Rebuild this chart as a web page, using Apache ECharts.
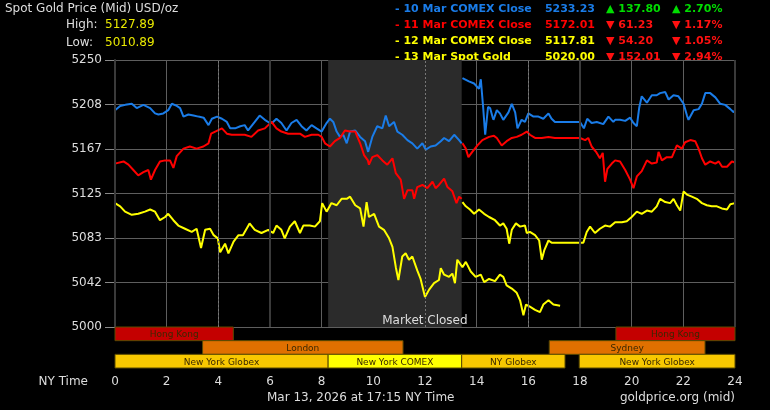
<!DOCTYPE html>
<html>
<head>
<meta charset="utf-8">
<script src="https://cdn.jsdelivr.net/npm/echarts@6/dist/echarts.min.js"></script>
<style>
  html, body { margin: 0; padding: 0; background: #000; }
  #main { width: 770px; height: 410px; }
</style>
</head>
<body>
<div id="main"></div>
<script>
// hours on NY time, price in USD/oz
// blue: after 10 Mar COMEX close -> 11 Mar close (wraps round the day)
var blueEarly = [[0,5203],[0.2,5207],[0.4,5208],[0.65,5209],[0.84,5205],[1.1,5208],[1.36,5205],[1.55,5200],[1.68,5199],[1.87,5200],[2.06,5203],[2.2,5209],[2.39,5207],[2.52,5205],[2.65,5197],[2.84,5199],[3.04,5198],[3.23,5197],[3.43,5196],[3.62,5189],[3.75,5195],[3.95,5197],[4.14,5195],[4.33,5192],[4.46,5186],[4.65,5186],[4.85,5188],[5.02,5189],[5.15,5184],[5.41,5192],[5.6,5198],[5.8,5194],[5.99,5191],[6.12,5192],[6.25,5195],[6.44,5191],[6.64,5184],[6.83,5191],[7.03,5194],[7.22,5188],[7.41,5184],[7.61,5189],[7.8,5186],[8.0,5183],[8.19,5191],[8.32,5195],[8.45,5192],[8.58,5183],[8.71,5178],[8.84,5180],[8.97,5172],[9.1,5183],[9.3,5184],[9.49,5178],[9.68,5174],[9.8,5164],[9.96,5178],[10.15,5188],[10.35,5186],[10.48,5198],[10.61,5188],[10.8,5192],[10.93,5183],[11.12,5180],[11.32,5175],[11.51,5172],[11.7,5167],[11.9,5172],[12.03,5166],[12.22,5169],[12.41,5170],[12.61,5174],[12.74,5177],[12.93,5174],[13.13,5180],[13.32,5175],[13.42,5172]];
var blueLate = [[13.45,5233],[13.51,5233],[13.7,5230],[13.9,5228],[14.09,5223],[14.16,5232],[14.25,5206],[14.33,5180],[14.44,5206],[14.52,5205],[14.61,5197],[14.65,5194],[14.78,5203],[14.9,5200],[15.03,5194],[15.23,5201],[15.36,5209],[15.49,5201],[15.58,5186],[15.74,5194],[15.87,5192],[16.0,5200],[16.2,5197],[16.39,5197],[16.58,5195],[16.78,5200],[16.9,5195],[17.03,5192],[17.48,5192],[18.0,5192],[18.15,5186],[18.28,5195],[18.45,5191],[18.65,5192],[18.9,5190],[19.1,5197],[19.29,5192],[19.36,5194],[19.55,5194],[19.75,5193],[19.94,5196],[20.07,5191],[20.2,5188],[20.29,5205],[20.39,5216],[20.59,5210],[20.78,5217],[20.97,5217],[21.1,5219],[21.3,5220],[21.43,5213],[21.62,5217],[21.81,5216],[22.01,5209],[22.14,5198],[22.2,5194],[22.4,5203],[22.59,5204],[22.72,5209],[22.85,5219],[23.04,5219],[23.24,5215],[23.43,5209],[23.62,5208],[23.82,5204],[23.95,5201],[24,5203]];
// red: after 11 Mar close -> 12 Mar close
var redEarly = [[0,5153],[0.33,5155],[0.52,5152],[0.71,5147],[0.9,5142],[1.1,5145],[1.29,5147],[1.39,5138],[1.55,5147],[1.74,5155],[1.94,5156],[2.13,5156],[2.26,5149],[2.39,5160],[2.65,5167],[2.9,5169],[3.16,5167],[3.42,5169],[3.62,5172],[3.72,5181],[3.88,5183],[4.14,5186],[4.33,5181],[4.52,5180],[4.85,5180],[5.02,5180],[5.28,5178],[5.54,5184],[5.8,5186],[6.06,5192],[6.25,5186],[6.44,5183],[6.7,5181],[6.96,5181],[7.16,5181],[7.35,5178],[7.61,5180],[7.87,5180],[8.0,5178],[8.13,5172],[8.32,5169],[8.51,5174],[8.71,5177],[8.9,5184],[9.1,5183],[9.3,5183],[9.49,5172],[9.64,5161],[9.79,5156],[9.83,5152],[9.96,5159],[10.15,5161],[10.35,5156],[10.54,5152],[10.74,5158],[10.87,5144],[11.06,5138],[11.19,5120],[11.32,5128],[11.51,5128],[11.58,5120],[11.7,5131],[11.9,5133],[12.09,5130],[12.29,5136],[12.41,5130],[12.54,5133],[12.74,5139],[12.87,5131],[13.06,5127],[13.22,5116],[13.32,5122],[13.42,5120]];
var redLate = [[13.45,5172],[13.58,5167],[13.68,5159],[13.83,5164],[14.03,5170],[14.22,5175],[14.48,5178],[14.67,5179],[14.78,5177],[14.97,5170],[15.16,5174],[15.36,5177],[15.55,5178],[15.74,5180],[15.94,5183],[16.06,5180],[16.26,5177],[16.52,5177],[16.78,5178],[17.03,5177],[17.48,5177],[18.0,5177],[18.2,5175],[18.32,5177],[18.45,5169],[18.62,5164],[18.77,5158],[18.88,5163],[18.97,5136],[19.06,5148],[19.23,5153],[19.36,5156],[19.55,5155],[19.75,5147],[19.94,5138],[20.07,5130],[20.2,5141],[20.39,5146],[20.59,5156],[20.78,5153],[20.97,5154],[21.04,5164],[21.17,5156],[21.36,5159],[21.56,5159],[21.75,5170],[21.94,5167],[22.07,5173],[22.27,5175],[22.46,5174],[22.59,5167],[22.72,5158],[22.85,5152],[23.04,5155],[23.24,5153],[23.37,5155],[23.5,5150],[23.69,5150],[23.88,5155],[24,5154]];
// yellow: after 12 Mar close -> 13 Mar spot (runs to 17:15)
var yellowEarly = [[0,5116],[0.2,5113],[0.39,5108],[0.65,5105],[0.9,5106],[1.16,5108],[1.36,5110],[1.55,5108],[1.74,5100],[1.94,5103],[2.06,5106],[2.26,5100],[2.45,5095],[2.71,5092],[2.97,5089],[3.16,5092],[3.33,5074],[3.49,5091],[3.68,5092],[3.82,5086],[3.98,5083],[4.07,5070],[4.26,5078],[4.39,5069],[4.59,5080],[4.78,5086],[4.95,5086],[5.21,5097],[5.41,5091],[5.67,5088],[5.93,5091],[6.12,5088],[6.25,5095],[6.44,5091],[6.57,5083],[6.77,5094],[6.96,5099],[7.16,5088],[7.29,5095],[7.54,5095],[7.74,5094],[7.93,5099],[8.02,5116],[8.19,5108],[8.38,5116],[8.58,5114],[8.77,5120],[8.97,5120],[9.1,5122],[9.3,5114],[9.49,5111],[9.62,5094],[9.74,5117],[9.83,5103],[10.03,5106],[10.22,5094],[10.41,5091],[10.61,5083],[10.74,5075],[10.87,5056],[10.97,5044],[11.12,5066],[11.25,5069],[11.38,5063],[11.51,5066],[11.7,5053],[11.83,5045],[12.0,5028],[12.16,5035],[12.35,5041],[12.54,5044],[12.61,5055],[12.74,5049],[12.93,5047],[13.06,5050],[13.16,5041],[13.25,5063],[13.45,5056],[13.58,5061],[13.77,5052],[13.96,5047],[14.16,5049],[14.29,5042],[14.48,5045],[14.71,5043],[14.9,5049],[15.03,5047],[15.16,5039],[15.36,5036],[15.55,5032],[15.68,5025],[15.81,5011],[15.91,5021],[16.06,5019],[16.26,5016],[16.45,5014],[16.58,5021],[16.78,5025],[16.97,5021],[17.23,5020]];
var yellowLate = [[13.45,5117],[13.58,5113],[13.74,5110],[13.9,5106],[14.09,5110],[14.29,5106],[14.48,5103],[14.71,5100],[14.9,5095],[15.03,5097],[15.16,5092],[15.26,5078],[15.36,5091],[15.52,5097],[15.68,5094],[15.87,5095],[15.94,5088],[16.06,5089],[16.26,5086],[16.42,5081],[16.52,5063],[16.62,5072],[16.78,5081],[16.9,5079],[17.48,5079],[18.13,5079],[18.26,5089],[18.39,5094],[18.58,5088],[18.77,5092],[18.97,5095],[19.16,5094],[19.36,5098],[19.62,5098],[19.81,5099],[20.0,5103],[20.2,5108],[20.39,5106],[20.59,5109],[20.78,5108],[20.97,5113],[21.1,5120],[21.3,5117],[21.49,5116],[21.62,5120],[21.75,5114],[21.88,5109],[22.01,5127],[22.14,5124],[22.33,5122],[22.52,5120],[22.72,5116],[22.91,5114],[23.1,5113],[23.3,5113],[23.49,5111],[23.69,5110],[23.82,5115],[24,5116]];

var marketClosed = [8.25, 13.42];
var heavyHours = [0, 6, 18, 24];
var dashedHours = [4, 12, 16];

// trading sessions: row 0 = top
var sessionNames = ['Hong Kong', 'Hong Kong', 'London', 'Sydney', 'New York Globex', 'New York COMEX', 'NY Globex', 'New York Globex'];
var sessionRows  = [0, 0, 1, 1, 2, 2, 2, 2];
var sessionStart = [0, 19.39, 3.39, 16.81, 0, 8.25, 13.42, 17.97];
var sessionEnd   = [4.58, 24, 11.15, 22.84, 8.25, 13.42, 17.42, 24];

var legendNames  = ['10 Mar COMEX Close', '11 Mar COMEX Close', '12 Mar COMEX Close', '13 Mar Spot Gold'];
var legendCloses = ['5233.23', '5172.01', '5117.81', '5020.00'];
var legendChange = ['137.80', '61.23', '54.20', '152.01'];
var legendPct    = ['2.70%', '1.17%', '1.05%', '2.94%'];
var legendUp     = [true, false, false, false];

var dayHigh = '5127.89';
var dayLow = '5010.89';

var yTicks = [5000, 5250];

var BLUE = '#1a7ce8', RED = '#ff0000', YELLOW = '#ffff00';
var rowColors = [BLUE, RED, YELLOW, YELLOW];
var sessionColors = {
  'Hong Kong': '#c40000', 'London': '#e07000', 'Sydney': '#e07000',
  'New York Globex': '#f8c800', 'NY Globex': '#f8c800', 'New York COMEX': '#ffff00'
};
var FONT = '"DejaVu Sans", Verdana, sans-serif';

var chart = echarts.init(document.getElementById('main'));

function priceLine(data, color) {
  return {
    type: 'line', data: data, showSymbol: false, z: 3,
    lineStyle: { color: color, width: 2 }, itemStyle: { color: color }
  };
}

var sessionData = sessionNames.map(function (n, i) {
  return [sessionStart[i], sessionEnd[i], sessionRows[i], n];
});

var graphics = [
  { type: 'text', x: 5, y: 9, style: { text: 'Spot Gold Price (Mid) USD/oz', fill: '#dddddd', font: '12px ' + FONT, verticalAlign: 'middle', textVerticalAlign: 'middle' } },
  { type: 'text', x: 66, y: 25, style: { text: 'High:', fill: '#dddddd', font: '12px ' + FONT, verticalAlign: 'middle', textVerticalAlign: 'middle' } },
  { type: 'text', x: 105, y: 25, style: { text: dayHigh, fill: '#e8e800', font: '12px ' + FONT, verticalAlign: 'middle', textVerticalAlign: 'middle' } },
  { type: 'text', x: 66, y: 43, style: { text: 'Low:', fill: '#dddddd', font: '12px ' + FONT, verticalAlign: 'middle', textVerticalAlign: 'middle' } },
  { type: 'text', x: 105, y: 43, style: { text: dayLow, fill: '#e8e800', font: '12px ' + FONT, verticalAlign: 'middle', textVerticalAlign: 'middle' } },
  { type: 'text', x: 88, y: 382, style: { text: 'NY Time', fill: '#dddddd', font: '12px ' + FONT, align: 'right', textAlign: 'right', verticalAlign: 'middle', textVerticalAlign: 'middle' } },
  { type: 'text', x: 267, y: 398, style: { text: 'Mar 13, 2026 at 17:15 NY Time', fill: '#dddddd', font: '12px ' + FONT, verticalAlign: 'middle', textVerticalAlign: 'middle' } },
  { type: 'text', x: 735, y: 398, style: { text: 'goldprice.org (mid)', fill: '#dddddd', font: '12px ' + FONT, align: 'right', textAlign: 'right', verticalAlign: 'middle', textVerticalAlign: 'middle' } }
];
var rowY = [9, 25, 41, 57];
legendNames.forEach(function (n, i) {
  var c = rowColors[i];
  var chg = legendUp[i] ? '#00dd00' : '#ff1010';
  var arrow = legendUp[i] ? '\u25B2 ' : '\u25BC ';
  var f = 'bold 11px ' + FONT;
  graphics.push(
    { type: 'text', x: 395, y: rowY[i], style: { text: '- ' + n, fill: c, font: f, verticalAlign: 'middle', textVerticalAlign: 'middle' } },
    { type: 'text', x: 595, y: rowY[i], style: { text: legendCloses[i], fill: c, font: f, align: 'right', textAlign: 'right', verticalAlign: 'middle', textVerticalAlign: 'middle' } },
    { type: 'text', x: 606, y: rowY[i], style: { text: arrow + legendChange[i], fill: chg, font: f, verticalAlign: 'middle', textVerticalAlign: 'middle' } },
    { type: 'text', x: 672, y: rowY[i], style: { text: arrow + legendPct[i], fill: chg, font: f, verticalAlign: 'middle', textVerticalAlign: 'middle' } }
  );
});

var option = {
  backgroundColor: '#000',
  animation: false,
  textStyle: { fontFamily: FONT },
  grid: [
    { left: 115, top: 60, width: 620, height: 267 },
    { left: 115, top: 327, width: 620, height: 41 }
  ],
  xAxis: [
    { gridIndex: 0, type: 'value', min: 0, max: 24, interval: 2, z: 1,
      axisLabel: { show: false }, axisTick: { show: false }, axisLine: { show: false },
      splitLine: { lineStyle: { color: '#5e5e5e', width: 1 } } },
    { gridIndex: 1, type: 'value', min: 0, max: 24, interval: 2,
      axisLabel: { color: '#dddddd', fontSize: 12, margin: 8 },
      axisTick: { length: 4, lineStyle: { color: '#777' } },
      axisLine: { show: false }, splitLine: { show: false } }
  ],
  yAxis: [
    { gridIndex: 0, type: 'value', min: yTicks[0], max: yTicks[1], interval: (yTicks[1] - yTicks[0]) / 6, z: 1,
      axisLabel: { color: '#dddddd', fontSize: 12, margin: 13, formatter: function (v) { return Math.round(v); } },
      axisTick: { show: true, length: 10, lineStyle: { color: '#888' } },
      axisLine: { show: true, lineStyle: { color: '#3a3a3a', width: 2 } },
      splitLine: { lineStyle: { color: '#5e5e5e', width: 1 } } },
    { gridIndex: 1, type: 'category', data: [0, 1, 2], inverse: true, show: false }
  ],
  graphic: graphics,
  series: [
    { type: 'line', data: [], z: 0, silent: true,
      markArea: { silent: true, itemStyle: { color: '#2b2b2b' },
        label: { show: true, position: 'insideBottom', formatter: 'Market Closed', color: '#dddddd', fontSize: 12, fontFamily: FONT, offset: [30, 5] },
        data: [[{ xAxis: marketClosed[0] }, { xAxis: marketClosed[1] }]] } },
    { type: 'line', data: [], z: 2, silent: true,
      markLine: { silent: true, symbol: 'none', label: { show: false },
        data: heavyHours.map(function (h) { return { xAxis: h, lineStyle: { color: '#3a3a3a', width: 2, type: 'solid' } }; })
          .concat(dashedHours.map(function (h) { return { xAxis: h, lineStyle: { color: '#777', width: 1, type: [2, 2] } }; })) } },
    priceLine(blueEarly, BLUE),
    priceLine(blueLate, BLUE),
    priceLine(redEarly, RED),
    priceLine(redLate, RED),
    priceLine(yellowLate, YELLOW),
    priceLine(yellowEarly, YELLOW),
    { type: 'custom', xAxisIndex: 1, yAxisIndex: 1, data: sessionData, silent: true,
      renderItem: function (params, api) {
        var a = api.coord([api.value(0), api.value(2)]);
        var b = api.coord([api.value(1), api.value(2)]);
        var h = api.size([0, 1])[1];
        var name = sessionData[params.dataIndex][3];
        return {
          type: 'group',
          children: [
            { type: 'rect', shape: { x: a[0], y: a[1] - h / 2, width: b[0] - a[0], height: h },
              style: { fill: sessionColors[name], stroke: '#5a4a00', lineWidth: 1 } },
            { type: 'text', x: (a[0] + b[0]) / 2, y: a[1] + 1,
              style: { text: name, fill: '#3a2800', font: '9px ' + FONT, align: 'center', verticalAlign: 'middle' } }
          ]
        };
      } }
  ]
};
chart.setOption(option);
</script>
</body>
</html>
